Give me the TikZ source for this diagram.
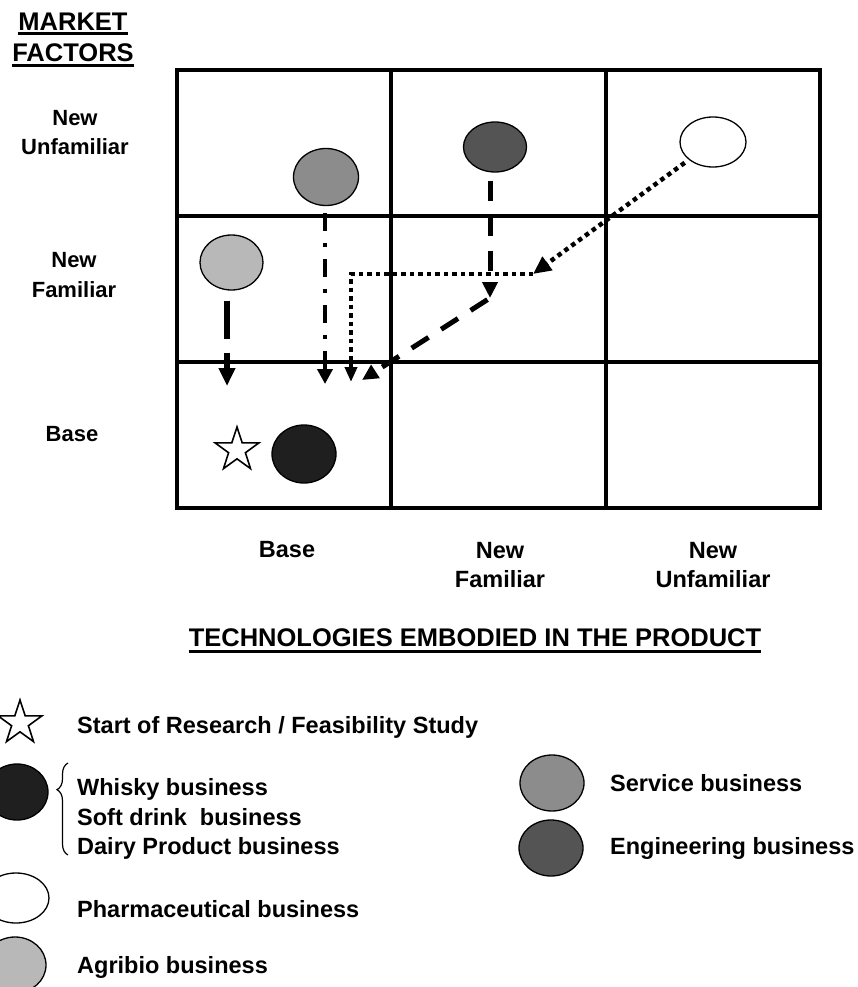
\documentclass[tikz,border=0pt]{standalone}
\usepackage{fontspec}
\setmainfont{Liberation Sans}
\usepackage{tikz}
\usetikzlibrary{arrows.meta, positioning, shapes.geometric, decorations.pathreplacing}
\definecolor{agrigray}{gray}{0.72}
\definecolor{servgray}{gray}{0.55}
\definecolor{enggray}{gray}{0.33}
\definecolor{drinkgray}{gray}{0.12}

\begin{document}
\begin{tikzpicture}[
  x=1pt, y=-1pt,
  biz/.style={ellipse, draw, line width=1.3pt, inner sep=0pt, minimum width=64pt, minimum height=56pt},
  startmark/.style={star, star points=5, star point ratio=2.6, draw, line width=1.6pt, inner sep=0pt, minimum size=46pt},
  lbl/.style={font=\fontsize{23.5}{29.5}\selectfont\bfseries, align=center, inner sep=0pt},
  rowlbl/.style={lbl, font=\fontsize{22}{29.5}\selectfont\bfseries},
  hdr/.style={lbl, font=\fontsize{25.5}{30}\selectfont\bfseries},
  legtxt/.style={lbl, align=left, anchor=west},
  gridline/.style={line width=3.5pt},
  uline/.style={line width=2.8pt},
  agriarrow/.style={line width=5.5pt, dash pattern=on 38pt off 14pt, -{Triangle[length=18pt,width=16pt]}},
  servarrow/.style={line width=4.5pt, dash pattern=on 18pt off 12pt on 4pt off 12pt, -{Triangle[length=15pt,width=15pt]}},
  engarrow/.style={line width=5pt, dash pattern=on 20pt off 15pt, -{Triangle[length=16pt,width=15pt]}},
  pharmarrow/.style={line width=4.5pt, dash pattern=on 4.5pt off 4pt, -{Triangle[length=18pt,width=16pt]}},
  legbrace/.style={decorate, decoration={brace, amplitude=11pt, aspect=0.71}, line width=1.2pt}
]
\useasboundingbox (0,0) rectangle (858,987);

% Axis titles
\node[hdr] (mkt) at (73,22) {MARKET};
\node[hdr] (fac) at (73,53) {FACTORS};
\draw[uline] ([yshift=-3pt]mkt.base west) -- ([yshift=-3pt]mkt.base east);
\draw[uline] ([yshift=-4pt]fac.base west) -- ([yshift=-4pt]fac.base east);

\node[hdr] (tech) at (475,638) {TECHNOLOGIES EMBODIED IN THE PRODUCT};
\draw[uline] ([yshift=-5pt]tech.base west) -- ([yshift=-5pt]tech.base east);

% Row labels (market)
\node[rowlbl] (rowUnf)  at (75,132.5) {New\\Unfamiliar};
\node[rowlbl] (rowFam)  at (74,275)   {New\\Familiar};
\node[rowlbl] (rowBase) at (72,434)   {Base};

% Column labels (technology)
\node[lbl] (colBase) at (287,550) {Base};
\node[lbl] (colFam)  at (500,565) {New\\Familiar};
\node[lbl] (colUnf)  at (713,565) {New\\Unfamiliar};

% 3x3 grid
\draw[gridline] (177,70) rectangle (820,508);
\draw[gridline] (391,70) -- (391,508);
\draw[gridline] (606,70) -- (606,508);
\draw[gridline] (177,216) -- (820,216);
\draw[gridline] (177,362) -- (820,362);

% Businesses in the grid
\node[biz, fill=servgray, minimum width=65pt, minimum height=57pt] (serv) at (326,177) {};
\node[biz, fill=enggray, minimum width=63pt, minimum height=50pt] (eng) at (495,147) {};
\node[biz, fill=white, minimum width=66pt, minimum height=50pt] (pharm) at (713,142) {};
\node[biz, fill=agrigray, minimum width=63pt, minimum height=55pt] (agri) at (231.5,262.5) {};
\node[biz, fill=drinkgray, minimum width=64pt, minimum height=58pt] (drink) at (304,454) {};
\node[startmark] (start) at (237,450) {};

% Paths towards the base cell
\coordinate (agriEnd) at (227,386);
\draw[agriarrow, shorten <=10pt] (agri.south -| agriEnd) -- (agriEnd);

\coordinate (servEnd) at (325,384);
\draw[servarrow, shorten <=7pt] (serv.south -| servEnd) -- (servEnd);

\coordinate (engKink) at (490,298);
\coordinate (engEnd) at (362,380);
\draw[engarrow, shorten <=8pt] (eng.south -| engKink) -- (engKink);
\draw[engarrow, shorten <=3pt] (engKink) -- (engEnd);

\coordinate (pharmTurn) at (533,274);
\coordinate (pharmEnd) at (351,382);
\draw[pharmarrow, shorten <=5pt] (pharm) -- (pharmTurn);
\draw[pharmarrow, -{Triangle[length=15pt,width=12pt]}] (pharmTurn) -| (pharmEnd);

% Legend
\node[startmark] (legStart) at (20,723) {};
\node[legtxt] (legStartTxt) at (77,727) {Start of Research / Feasibility Study};

\node[biz, fill=drinkgray, minimum width=62pt, minimum height=56pt] (legDrink) at (17,792) {};
\node[legtxt] (legDrinkTxt) at (77,819) {Whisky business\\Soft drink\ \ business\\Dairy Product business};
\coordinate (braceTop) at (68,763);
\coordinate (braceBot) at (68,855);
\draw[legbrace] (braceBot) -- (braceTop);

\node[biz, fill=white, minimum width=66pt, minimum height=50pt] (legPharm) at (16,898) {};
\node[legtxt] (legPharmTxt) at (77,909) {Pharmaceutical business};

\node[biz, fill=agrigray, minimum width=62pt] (legAgri) at (15,965) {};
\node[legtxt] (legAgriTxt) at (77,967) {Agribio business};

\node[biz, fill=servgray] (legServ) at (552,783) {};
\node[legtxt] (legServTxt) at (610,783) {Service business};
\node[biz, fill=enggray] (legEng) at (551,848) {};
\node[legtxt] (legEngTxt) at (610,848) {Engineering business};

\end{tikzpicture}
\end{document}
